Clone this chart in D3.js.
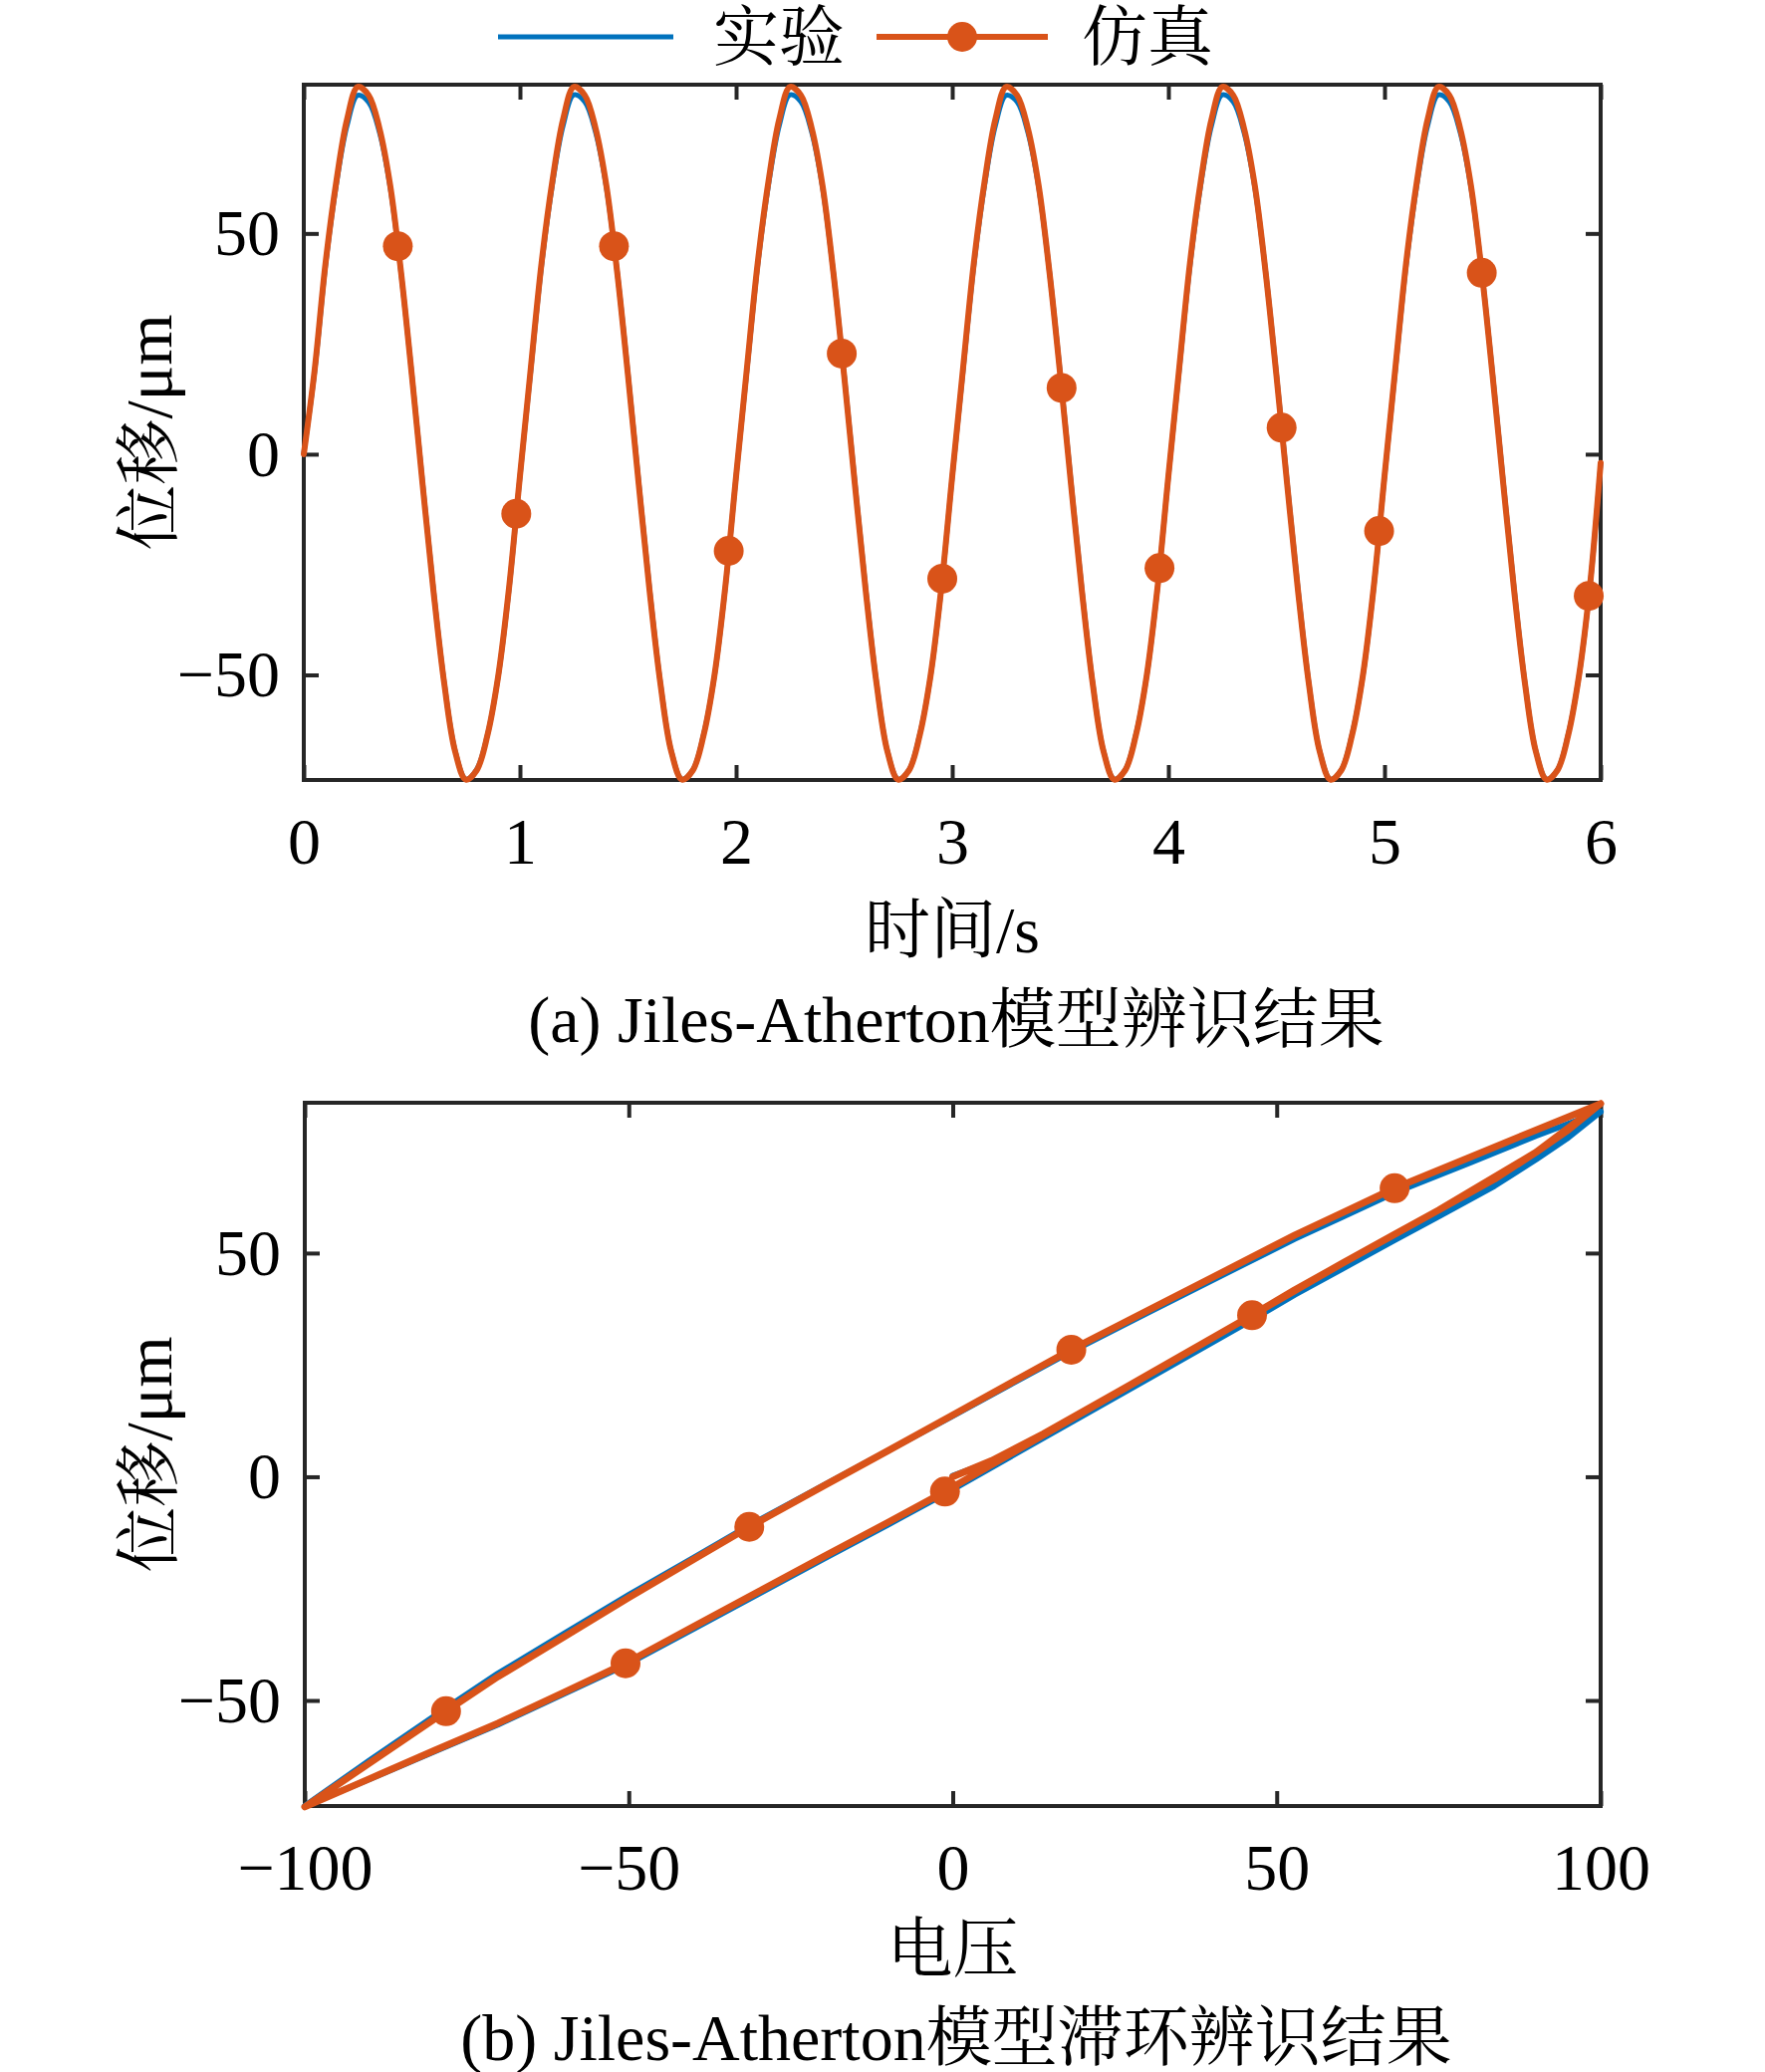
<!DOCTYPE html>
<html>
<head>
<meta charset="utf-8">
<script src="https://cdn.jsdelivr.net/npm/d3@7"></script>
<style>
  body { margin: 0; background: #fff; }
  text { font-family: "Liberation Serif", "Times New Roman", "Noto Serif CJK SC", "Noto Sans CJK SC", serif; fill: #000; }
</style>
</head>
<body>
<div id="chart"></div>
<script>
var W = 1772, H = 2080;
var BLUE = "#0072BD", ORANGE = "#D95319", AXIS = "#262626";
var FS = 66;

// (a) displacement vs time, sampled every 0.05 s from 0 to 6 s
var timeStep = 0.05;
var dispExp = [0.3,
  18.6, 42.5, 60.9, 74.4, 81.3, 79.7, 72.9, 60.3, 41.0, 18.0, -6.6, -30.7, -51.8, -67.1, -73.6, -71.4, -63.5, -50.2, -30.4,
  -5.2, 18.9, 42.7, 61.0, 74.5, 81.4, 79.8, 72.9, 60.4, 41.3, 18.2, -6.5, -30.6, -51.8, -67.2, -73.6, -71.5, -63.4, -50.2, -30.3,
  -5.1, 18.9, 42.8, 61.0, 74.5, 81.4, 79.8, 72.9, 60.4, 41.2, 18.1, -6.5, -30.6, -51.8, -67.2, -73.6, -71.5, -63.4, -50.2, -30.3,
  -5.2, 18.8, 42.7, 61.0, 74.5, 81.3, 79.8, 72.9, 60.4, 41.3, 18.2, -6.5, -30.6, -51.8, -67.2, -73.6, -71.5, -63.4, -50.2, -30.3,
  -5.2, 18.9, 42.7, 61.0, 74.5, 81.4, 79.8, 72.9, 60.4, 41.3, 18.2, -6.5, -30.6, -51.8, -67.2, -73.6, -71.5, -63.4, -50.2, -30.3,
  -5.2, 18.9, 42.7, 61.0, 74.5, 81.4, 79.8, 72.9, 60.4, 41.3, 18.2, -6.5, -30.6, -51.8, -67.2, -73.6, -71.5, -63.4, -50.2, -30.3,
  -2.3];
var dispSim = [0,
  19.0, 43.0, 61.6, 75.8, 83.2, 81.3, 73.8, 60.8, 41.2, 17.8, -7.0, -31.0, -52.0, -67.3, -73.7, -71.6, -63.6, -50.1, -30.1,
  -5.0, 19.4, 43.3, 61.8, 75.9, 83.2, 81.3, 73.8, 60.8, 41.2, 17.8, -7.0, -31.0, -52.0, -67.3, -73.7, -71.6, -63.6, -50.1, -30.1,
  -5.0, 19.4, 43.3, 61.8, 75.9, 83.2, 81.3, 73.8, 60.8, 41.2, 17.8, -7.0, -31.0, -52.0, -67.3, -73.7, -71.6, -63.6, -50.1, -30.1,
  -5.0, 19.4, 43.3, 61.8, 75.9, 83.2, 81.3, 73.8, 60.8, 41.2, 17.8, -7.0, -31.0, -52.0, -67.3, -73.7, -71.6, -63.6, -50.1, -30.1,
  -5.0, 19.4, 43.3, 61.8, 75.9, 83.2, 81.3, 73.8, 60.8, 41.2, 17.8, -7.0, -31.0, -52.0, -67.3, -73.7, -71.6, -63.6, -50.1, -30.1,
  -5.0, 19.4, 43.3, 61.8, 75.9, 83.2, 81.3, 73.8, 60.8, 41.2, 17.8, -7.0, -31.0, -52.0, -67.3, -73.7, -71.6, -63.6, -50.1, -30.1,
  -2.0];
var markTime = [0.435, 0.983, 1.435, 1.966, 2.489, 2.954, 3.506, 3.959, 4.524, 4.975, 5.450, 5.945];
var markDisp = [47.1, -13.5, 47.1, -21.9, 22.8, -28.2, 15.0, -25.8, 6.0, -17.4, 41.1, -32.1];

// (b) hysteresis loop: initial curve, descending branch, ascending branch
var loopVolt = [0, 6, 14, 26, 46.2, 60, 75, 90, 100,
  90, 80, 68.2, 60, 52.8, 40, 30, 18.3, 10, 0, -10, -20, -31.4, -40, -50, -60, -70.2, -78.2, -90, -100,
  -90, -80, -70.2, -60, -50.5, -40, -30, -20, -10, -1.2, 10, 20, 30, 46.2, 52.8, 60, 68.2, 75, 83.6, 90, 95, 100];
var loopExp = [0.2, 3.4, 9.2, 18.9, 35.4, 46.7, 58.5, 71.2, 81.6,
  76.2, 70.3, 63.5, 58.0, 53.2, 43.9, 36.6, 28.0, 21.5, 13.6, 5.8, -2.0, -10.9, -18.1, -26.4, -35.1, -44.0, -51.7, -63.4, -73.6,
  -67.6, -61.4, -55.4, -48.5, -42.1, -34.0, -26.2, -18.4, -10.7, -3.8, 5.4, 13.6, 21.8, 35.1, 40.7, 46.4, 52.9, 58.2, 65.0, 70.9, 75.8, 81.6];
var loopSim = [0, 3.6, 9.6, 19.4, 36.1, 47.6, 59.6, 72.5, 83.4,
  77.5, 71.5, 64.5, 58.9, 54.0, 44.5, 37.1, 28.4, 21.8, 13.8, 5.8, -2.1, -11.2, -18.5, -27.0, -35.8, -44.7, -52.4, -64.0, -73.8,
  -67.5, -61.2, -55.1, -48.2, -41.7, -33.5, -25.7, -17.9, -10.2, -3.3, 6.0, 14.3, 22.6, 36.1, 41.8, 47.6, 54.2, 59.6, 66.5, 72.5, 77.5, 83.4];
var loopMarkVolt = [68.2, 18.3, -31.4, -78.2, -50.5, -1.2, 46.2];
var loopMarkDisp = [64.5, 28.4, -11.2, -52.4, -41.7, -3.3, 36.1];

var timeTicks = [0, 1, 2, 3, 4, 5, 6];
var voltTicks = [-100, -50, 0, 50, 100];
var dispTicks = [-50, 0, 50];

var svg = d3.select("#chart").append("svg")
    .attr("width", W)
    .attr("height", H)
    .style("background", "#fff");

var fmt = d3.format("d");

function drawPanel(o) {
  var x = d3.scaleLinear().domain(o.xDomain).range([o.left, o.right]);
  var y = d3.scaleLinear().domain(o.yDomain).range([o.bottom, o.top]);
  var g = svg.append("g");

  // box
  g.append("rect")
      .attr("x", o.left).attr("y", o.top)
      .attr("width", o.right - o.left).attr("height", o.bottom - o.top)
      .attr("fill", "none").attr("stroke", AXIS).attr("stroke-width", 4);

  // ticks point inward, mirrored on top and right
  var axes = [
    [d3.axisBottom(x).tickValues(o.xTicks).tickFormat(fmt).tickPadding(37), "translate(0," + o.bottom + ")"],
    [d3.axisTop(x).tickValues(o.xTicks).tickFormat(""), "translate(0," + o.top + ")"],
    [d3.axisLeft(y).tickValues(o.yTicks).tickFormat(fmt).tickPadding(24), "translate(" + o.left + ",0)"],
    [d3.axisRight(y).tickValues(o.yTicks).tickFormat(""), "translate(" + o.right + ",0)"]
  ];
  axes.forEach(function (a) {
    var ax = g.append("g")
        .attr("transform", a[1])
        .call(a[0].tickSizeInner(-15).tickSizeOuter(0));
    ax.attr("font-size", null).attr("font-family", null);
    ax.select(".domain").remove();
    ax.selectAll(".tick line").attr("stroke", AXIS).attr("stroke-width", 4);
    ax.selectAll(".tick text").style("font-size", FS + "px").attr("fill", "#000");
  });

  var line = d3.line()
      .x(function (d) { return x(d[0]); })
      .y(function (d) { return y(d[1]); })
      .curve(o.curve);

  g.append("path").datum(o.exp)
      .attr("d", line).attr("fill", "none")
      .attr("stroke", BLUE).attr("stroke-width", o.wExp)
      .attr("stroke-linejoin", "round").attr("stroke-linecap", "round");
  g.append("path").datum(o.sim)
      .attr("d", line).attr("fill", "none")
      .attr("stroke", ORANGE).attr("stroke-width", o.wSim)
      .attr("stroke-linejoin", "round").attr("stroke-linecap", "round");

  g.selectAll(".mk").data(o.marks).enter().append("circle")
      .attr("cx", function (d) { return x(d[0]); })
      .attr("cy", function (d) { return y(d[1]); })
      .attr("r", 15)
      .attr("fill", ORANGE);

  var cx = (o.left + o.right) / 2;
  g.append("text")
      .attr("x", cx).attr("y", o.xLabelY)
      .attr("text-anchor", "middle").attr("dominant-baseline", "central")
      .style("font-size", FS + "px")
      .text(o.xLabel);
  g.append("text")
      .attr("transform", "translate(149," + (o.top + o.bottom) / 2 + ") rotate(-90)")
      .attr("text-anchor", "middle").attr("dominant-baseline", "central")
      .style("font-size", FS + "px")
      .text("位移/μm");
  g.append("text")
      .attr("x", 960).attr("y", o.captionY)
      .attr("text-anchor", "middle").attr("dominant-baseline", "central")
      .style("font-size", FS + "px")
      .text(o.caption);
}

function zip(a, b) {
  return a.map(function (v, i) { return [v, b[i]]; });
}

drawPanel({
  left: 305, right: 1607, top: 85, bottom: 783,
  xDomain: [0, 6], yDomain: [-73.8, 83.7],
  xTicks: timeTicks, yTicks: dispTicks,
  exp: dispExp.map(function (v, i) { return [i * timeStep, v]; }),
  sim: dispSim.map(function (v, i) { return [i * timeStep, v]; }),
  marks: zip(markTime, markDisp),
  curve: d3.curveCatmullRom.alpha(0.5),
  wExp: 5, wSim: 6,
  xLabel: "时间/s", xLabelY: 933,
  caption: "(a) Jiles-Atherton模型辨识结果", captionY: 1023
});

drawPanel({
  left: 306, right: 1607, top: 1107, bottom: 1813,
  xDomain: [-100, 100], yDomain: [-73.6, 83.6],
  xTicks: voltTicks, yTicks: dispTicks,
  exp: zip(loopVolt, loopExp),
  sim: zip(loopVolt, loopSim),
  marks: zip(loopMarkVolt, loopMarkDisp),
  curve: d3.curveLinear,
  wExp: 6, wSim: 7,
  xLabel: "电压", xLabelY: 1956,
  caption: "(b) Jiles-Atherton模型滞环辨识结果", captionY: 2045
});

// legend
var lg = svg.append("g");
lg.append("line").attr("x1", 500).attr("x2", 676).attr("y1", 37).attr("y2", 37)
    .attr("stroke", BLUE).attr("stroke-width", 5);
lg.append("text").attr("x", 716).attr("y", 37).attr("dominant-baseline", "central")
    .style("font-size", FS + "px").text("实验");
lg.append("line").attr("x1", 880).attr("x2", 1052).attr("y1", 37).attr("y2", 37)
    .attr("stroke", ORANGE).attr("stroke-width", 6);
lg.append("circle").attr("cx", 966).attr("cy", 37).attr("r", 15).attr("fill", ORANGE);
lg.append("text").attr("x", 1086).attr("y", 37).attr("dominant-baseline", "central")
    .style("font-size", FS + "px").text("仿真");
</script>
</body>
</html>
